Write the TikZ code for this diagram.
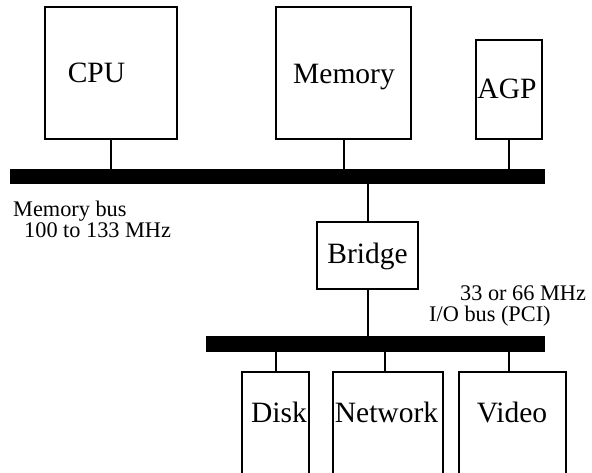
\documentclass[tikz,border=0pt]{standalone}
\usepackage{fontspec}
\setmainfont{Liberation Serif}
\begin{document}
\begin{tikzpicture}[x=1pt,y=-1pt,
  unitbox/.style={draw=black, line width=1.9pt, inner sep=0pt},
  busbar/.style={fill=black, draw=none, inner sep=0pt},
  wire/.style={line width=2pt},
  biglabel/.style={inner sep=0pt, anchor=base, font=\fontsize{29.5}{30}\selectfont},
  smalllabel/.style={inner sep=0pt, anchor=base west, font=\fontsize{22.3}{23}\selectfont}]
\useasboundingbox (0,0) rectangle (592,472);
\clip (0,0) rectangle (592,472);
% buses
\node[busbar, minimum width=535pt, minimum height=15pt] (membus) at (277.5,176.5) {};
\node[busbar, minimum width=339pt, minimum height=16pt] (iobus) at (375.5,344) {};
% units
\node[unitbox, minimum width=132pt, minimum height=132pt] (cpu) at (111,73) {};
\node[unitbox, minimum width=135pt, minimum height=132pt] (mem) at (343.5,73) {};
\node[unitbox, minimum width=66pt, minimum height=99pt] (agp) at (509,89.5) {};
\node[unitbox, minimum width=101pt, minimum height=67pt] (bridge) at (367.5,255.5) {};
\node[unitbox, minimum width=67pt, minimum height=128pt] (disk) at (275.5,436) {};
\node[unitbox, minimum width=110pt, minimum height=128pt] (net) at (388,436) {};
\node[unitbox, minimum width=107pt, minimum height=128pt] (video) at (512.5,436) {};
% labels
\node[biglabel] (lcpu) at (96.5,82) {CPU};
\node[biglabel] (lmem) at (344,83) {Memory};
\node[biglabel] (lagp) at (507,98) {AGP};
\node[biglabel] (lbridge) at (367.5,263) {Bridge};
\node[biglabel] (ldisk) at (279,422) {Disk};
\node[biglabel] (lnet) at (386.5,422) {Network};
\node[biglabel] (lvideo) at (512,422) {Video};
\node[smalllabel] (lmb1) at (13,216) {Memory bus};
\node[smalllabel] (lmb2) at (24,237) {100 to 133 MHz};
\node[smalllabel] (lio1) at (460,300) {33 or 66 MHz};
\node[smalllabel] (lio2) at (429,321) {I/O bus (PCI)};
% connectors
\draw[wire] (cpu.south) -- (cpu.south |- membus.north);
\draw[wire] (mem.south) -- (mem.south |- membus.north);
\draw[wire] (agp.south) -- (agp.south |- membus.north);
\draw[wire] (bridge.north) -- (bridge.north |- membus.south);
\draw[wire] (bridge.south) -- (bridge.south |- iobus.north);
\draw[wire] (disk.north) -- (disk.north |- iobus.south);
\draw[wire] ([xshift=-3pt]net.north) -- ([xshift=-3pt]net.north |- iobus.south);
\draw[wire] ([xshift=-4pt]video.north) -- ([xshift=-4pt]video.north |- iobus.south);
\end{tikzpicture}
\end{document}
